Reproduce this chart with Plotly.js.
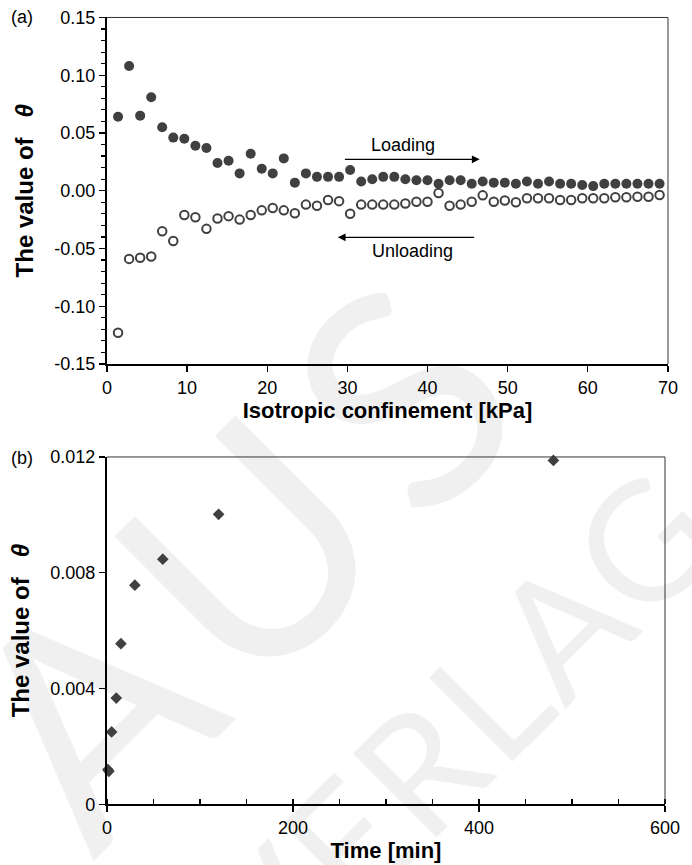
<!DOCTYPE html>
<html>
<head>
<meta charset="utf-8">
<script src="https://cdn.plot.ly/plotly-3.0.1.min.js"></script>
<style>
  html, body { margin: 0; padding: 0; background: #ffffff; }
  #wrap { position: relative; width: 692px; height: 865px; overflow: hidden; }
  #mark { position: absolute; left: 0; top: 0; }
  #chart { position: absolute; left: 0; top: 0; width: 692px; height: 865px; }
</style>
</head>
<body>
<div id="wrap">
  <svg id="mark" width="692" height="865">
    <g fill="#f0f0f0" font-family="Lato, 'Open Sans', sans-serif">
      <text x="165" y="790" font-size="300" text-anchor="middle" transform="rotate(-45 165 790)">A</text>
      <text x="327" y="628" font-size="300" text-anchor="middle" transform="rotate(-45 327 628)">U</text>
      <text x="480" y="475" font-size="300" text-anchor="middle" transform="rotate(-45 480 475)">S</text>
      <text x="274" y="1000" font-size="165" letter-spacing="4" transform="rotate(-45 274 1000)">VERLAG</text>
    </g>
  </svg>
  <div id="chart"></div>
</div>
<script>
// (a) isotropic confinement steps [kPa]
const pressure = [1.38, 2.76, 4.14, 5.52, 6.89, 8.27, 9.65, 11.03, 12.41, 13.79,
  15.17, 16.55, 17.93, 19.31, 20.68, 22.06, 23.44, 24.82, 26.20, 27.58,
  28.96, 30.34, 31.72, 33.10, 34.47, 35.85, 37.23, 38.61, 39.99, 41.37,
  42.75, 44.13, 45.51, 46.88, 48.26, 49.64, 51.02, 52.40, 53.78, 55.16,
  56.54, 57.92, 59.30, 60.67, 62.05, 63.43, 64.81, 66.19, 67.57, 68.95];

// theta during loading (filled circles)
const thetaLoading = [0.064, 0.108, 0.065, 0.081, 0.055, 0.046, 0.045, 0.039, 0.037, 0.024,
  0.026, 0.015, 0.032, 0.019, 0.015, 0.028, 0.007, 0.015, 0.012, 0.012,
  0.012, 0.018, 0.008, 0.010, 0.012, 0.012, 0.010, 0.009, 0.009, 0.006,
  0.009, 0.009, 0.006, 0.008, 0.007, 0.007, 0.006, 0.008, 0.006, 0.008,
  0.006, 0.006, 0.005, 0.004, 0.006, 0.006, 0.006, 0.006, 0.006, 0.006];

// theta during unloading (open circles)
const thetaUnloading = [-0.123, -0.059, -0.058, -0.057, -0.035, -0.0435, -0.021, -0.023, -0.033, -0.024,
  -0.022, -0.025, -0.021, -0.017, -0.015, -0.017, -0.0195, -0.012, -0.013, -0.008,
  -0.009, -0.020, -0.012, -0.012, -0.012, -0.012, -0.011, -0.0095, -0.0095, -0.002,
  -0.013, -0.012, -0.0095, -0.004, -0.0095, -0.0085, -0.010, -0.0065, -0.0065, -0.0065,
  -0.008, -0.008, -0.0065, -0.0065, -0.0065, -0.0057, -0.0057, -0.0052, -0.0052, -0.0037];

// (b) theta versus time
const timeMin = [1, 2, 5, 10, 15, 30, 60, 120, 480];
const thetaTime = [0.00120, 0.00114, 0.00250, 0.00367, 0.00555, 0.00757, 0.00847, 0.01002, 0.01188];

// tick labels
const aYTickVals = [-0.15, -0.10, -0.05, 0.00, 0.05, 0.10, 0.15];
const aYTickText = ['-0.15', '-0.10', '-0.05', '0.00', '0.05', '0.10', '0.15'];
const aXTickVals = [0, 10, 20, 30, 40, 50, 60, 70];
const bYTickVals = [0, 0.004, 0.008, 0.012];
const bYTickText = ['0', '0.004', '0.008', '0.012'];
const bXTickVals = [0, 200, 400, 600];

const ink = '#404040';
const FONT = 'Liberation Sans, Arial, sans-serif';
const THETA_TITLE = 'The value of\u00a0\u00a0\u00a0<i>θ</i>';

const traces = [
  {
    x: pressure, y: thetaLoading, xaxis: 'x', yaxis: 'y',
    type: 'scatter', mode: 'markers', name: 'Loading',
    marker: { symbol: 'circle', size: 10, color: ink },
    cliponaxis: false, hoverinfo: 'x+y'
  },
  {
    x: pressure, y: thetaUnloading, xaxis: 'x', yaxis: 'y',
    type: 'scatter', mode: 'markers', name: 'Unloading',
    marker: { symbol: 'circle-open', size: 8.5, color: ink, line: { width: 2, color: ink } },
    cliponaxis: false, hoverinfo: 'x+y'
  },
  {
    x: timeMin, y: thetaTime, xaxis: 'x2', yaxis: 'y2',
    type: 'scatter', mode: 'markers', name: 'Time',
    marker: { symbol: 'diamond', size: 9, color: ink },
    cliponaxis: false, hoverinfo: 'x+y'
  }
];

const axisCommon = {
  showgrid: false, zeroline: false, showline: true,
  linecolor: '#000000', linewidth: 2,
  ticks: 'outside', tickcolor: '#000000', tickwidth: 1.3,
  tickfont: { family: FONT, size: 18, color: '#000000' },
  fixedrange: true
};
const xTitleFont = { family: FONT, size: 22, color: '#000000', weight: 'bold' };
const yTitleFont = { family: FONT, size: 24, color: '#000000', weight: 'bold' };

const frame = (xr, yr) => ([
  { type: 'line', xref: xr + ' domain', yref: yr + ' domain', x0: 0, x1: 1, y0: 1, y1: 1,
    line: { color: '#333333', width: 1 } },
  { type: 'line', xref: xr + ' domain', yref: yr + ' domain', x0: 1, x1: 1, y0: 0, y1: 1,
    line: { color: '#333333', width: 1 } }
]);

const layout = {
  width: 692, height: 865,
  margin: { l: 0, r: 0, t: 0, b: 0 },
  paper_bgcolor: 'rgba(0,0,0,0)', plot_bgcolor: 'rgba(0,0,0,0)',
  showlegend: false,
  font: { family: FONT, color: '#000000' },
  xaxis: Object.assign({}, axisCommon, {
    domain: [0.1546, 0.9653], anchor: 'y', range: [0, 70],
    tickmode: 'array', tickvals: aXTickVals, ticklen: 6,
    title: { text: 'Isotropic confinement [kPa]', font: xTitleFont, standoff: 6 }
  }),
  yaxis: Object.assign({}, axisCommon, {
    domain: [0.5792, 0.9798], anchor: 'x', range: [-0.15, 0.15],
    tickmode: 'array', tickvals: aYTickVals, ticktext: aYTickText, ticklen: 6,
    minor: { dtick: 0.01, ticks: 'outside', ticklen: 4, tickwidth: 1.2, tickcolor: '#000000', showgrid: false },
    title: { text: THETA_TITLE, font: yTitleFont, standoff: 14 }
  }),
  xaxis2: Object.assign({}, axisCommon, {
    domain: [0.1546, 0.9610], anchor: 'y2', range: [0, 600],
    tickmode: 'array', tickvals: bXTickVals, ticklen: 6,
    minor: { dtick: 50, ticks: 'inside', ticklen: 5, tickwidth: 1.2, tickcolor: '#000000', showgrid: false },
    title: { text: 'Time [min]', font: xTitleFont, standoff: 6 }
  }),
  yaxis2: Object.assign({}, axisCommon, {
    domain: [0.0702, 0.4717], anchor: 'x2', range: [0, 0.012],
    tickmode: 'array', tickvals: bYTickVals, ticktext: bYTickText, ticklen: 6,
    title: { text: THETA_TITLE, font: yTitleFont, standoff: 14 }
  }),
  shapes: [].concat(frame('x', 'y'), frame('x2', 'y2')),
  annotations: [
    { xref: 'paper', yref: 'paper', x: 0.032, y: 0.980, text: '(a)', showarrow: false,
      font: { family: FONT, size: 18, color: '#000000' }, xanchor: 'center', yanchor: 'middle' },
    { xref: 'paper', yref: 'paper', x: 0.032, y: 0.470, text: '(b)', showarrow: false,
      font: { family: FONT, size: 18, color: '#000000' }, xanchor: 'center', yanchor: 'middle' },
    // loading direction
    { xref: 'x', yref: 'y', axref: 'x', ayref: 'y', x: 46.5, y: 0.0272, ax: 29.5, ay: 0.0272,
      text: '', showarrow: true, arrowhead: 2, arrowsize: 1.3, arrowwidth: 1.2, arrowcolor: '#000000' },
    { xref: 'x', yref: 'y', x: 36.9, y: 0.0396, text: 'Loading', showarrow: false,
      font: { family: FONT, size: 18, color: '#000000' } },
    // unloading direction
    { xref: 'x', yref: 'y', axref: 'x', ayref: 'y', x: 28.8, y: -0.0403, ax: 46.0, ay: -0.0403,
      text: '', showarrow: true, arrowhead: 2, arrowsize: 1.3, arrowwidth: 1.2, arrowcolor: '#000000' },
    { xref: 'x', yref: 'y', x: 38.1, y: -0.0522, text: 'Unloading', showarrow: false,
      font: { family: FONT, size: 18, color: '#000000' } }
  ]
};

Plotly.newPlot('chart', traces, layout, { staticPlot: true, displayModeBar: false });
</script>
</body>
</html>
